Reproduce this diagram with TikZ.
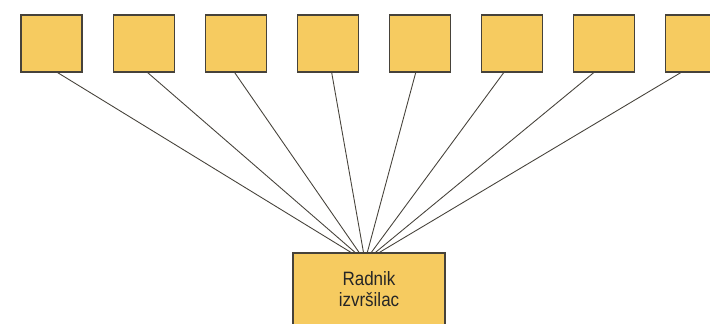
\documentclass[tikz,border=0pt]{standalone}
\usepackage{fontspec}
\setmainfont{Liberation Sans}[FakeStretch=0.88]
\usepackage{tikz}
\usetikzlibrary{positioning,calc}

\definecolor{boxyellow}{RGB}{246,203,96}
\definecolor{boxline}{RGB}{70,66,58}

\begin{document}
\begin{tikzpicture}
		[x=0.03cm,y=-0.03cm,
		 sq/.style= {minimum width=1.83cm,minimum height=1.71cm,inner sep=0pt,
		             fill=boxyellow,draw=boxline,line width=0.9pt},
		 worker/.style= {minimum width=4.56cm,minimum height=2.16cm,inner sep=0pt,
		             fill=boxyellow,draw=boxline,line width=0.9pt,align=center,
		             text=black!85,font=\fontsize{16.5}{17.5}\selectfont},
		 link/.style= {draw=boxline,line width=0.75pt},
		 node distance=0.9cm]

		\clip (0,0) rectangle (710,323);

		\node[sq] (s1) at (51.5,43.5) {};
		\node[sq,right=of s1] (s2) {};
		\node[sq,right=of s2] (s3) {};
		\node[sq,right=of s3] (s4) {};
		\node[sq,right=of s4] (s5) {};
		\node[sq,right=of s5] (s6) {};
		\node[sq,right=of s6] (s7) {};
		\node[sq,right=of s7] (s8) {};

		\coordinate (hub) at (365,261);

		% lines leave the squares a little off centre
		\draw[link] ($(s1.south)+(6,0)$) -- (hub);
		\draw[link] ($(s2.south)+(4,0)$) -- (hub);
		\draw[link] ($(s3.south)+(-1,0)$) -- (hub);
		\draw[link] ($(s4.south)+(4,0)$) -- (hub);
		\draw[link] ($(s5.south)+(-4,0)$) -- (hub);
		\draw[link] ($(s6.south)+(-8,0)$) -- (hub);
		\draw[link] ($(s7.south)+(-10,0)$) -- (hub);
		\draw[link] ($(s8.south)+(-15,0)$) -- (hub);

		\node[worker] (w) at (369,289) {Radnik\\izvršilac};

	\end{tikzpicture}
\end{document}
